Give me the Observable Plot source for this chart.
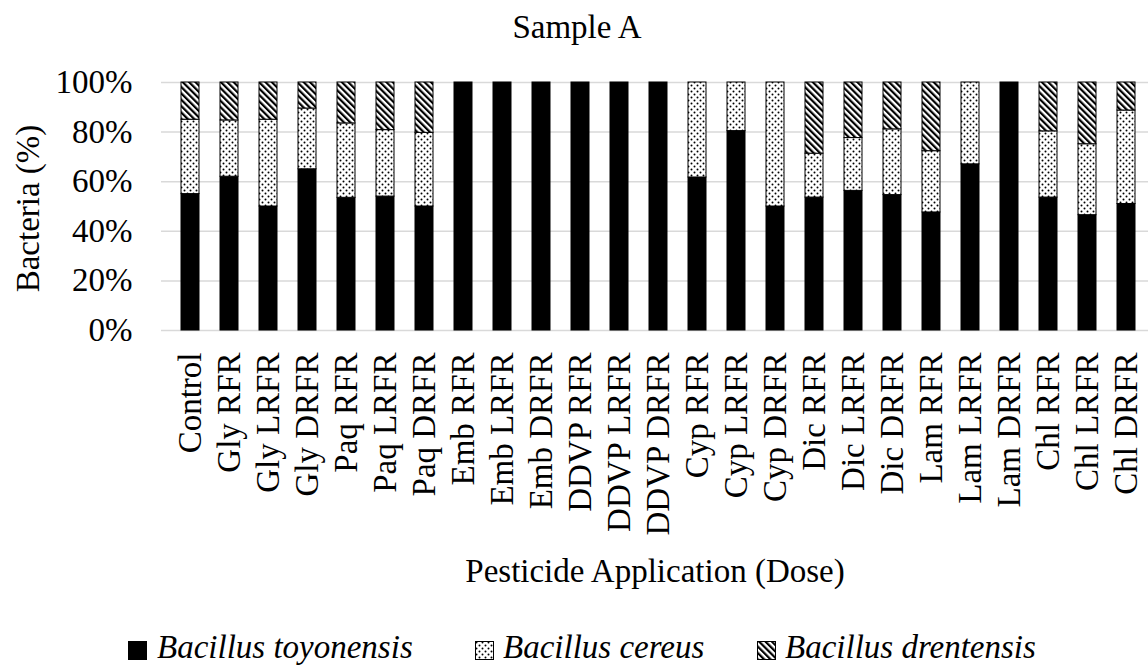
<!DOCTYPE html>
<html>
<head>
<meta charset="utf-8">
<script src="https://cdn.jsdelivr.net/npm/d3@7"></script>
<script src="https://cdn.jsdelivr.net/npm/@observablehq/plot@0.6"></script>
<style>
  body { margin: 0; background: #fff; font-family: "Liberation Serif", "Times New Roman", serif; color: #000; }
  #wrap { position: relative; width: 1148px; height: 666px; overflow: hidden; background: #fff; }
  #title { position: absolute; left: 0; top: 0; width: 1148px; box-sizing: border-box; text-align: center;
           font-size: 33px; line-height: 33px; padding-top: 11px; padding-left: 6px; }
  #chart { position: absolute; left: 0; top: 60px; }
  .legtext { position: absolute; top: 631px; font-size: 33px; line-height: 33px; font-style: italic; white-space: nowrap; }
  .legbox { position: absolute; top: 641px; width: 19px; height: 19px; }
</style>
</head>
<body>
<svg width="0" height="0" style="position:absolute">
  <defs>
    <pattern id="dots" patternUnits="userSpaceOnUse" width="6" height="6">
      <rect width="6" height="6" fill="#fff"></rect>
      <circle cx="1.5" cy="1.5" r="1" fill="#000"></circle>
      <circle cx="4.5" cy="4.5" r="1" fill="#000"></circle>
    </pattern>
    <pattern id="stripes" patternUnits="userSpaceOnUse" width="4.5" height="4.5" patternTransform="rotate(-45)">
      <rect width="4.5" height="4.5" fill="#fff"></rect>
      <rect width="2.2" height="4.5" fill="#000"></rect>
    </pattern>
  </defs>
</svg>
<div id="wrap">
  <div id="title">Sample A</div>
  <div id="chart"></div>
  <div id="legend"></div>
</div>
<script>
const categories = ["Control", "Gly RFR", "Gly LRFR", "Gly DRFR", "Paq RFR", "Paq LRFR", "Paq DRFR",
  "Emb RFR", "Emb LRFR", "Emb DRFR", "DDVP RFR", "DDVP LRFR", "DDVP DRFR",
  "Cyp RFR", "Cyp LRFR", "Cyp DRFR", "Dic RFR", "Dic LRFR", "Dic DRFR",
  "Lam RFR", "Lam LRFR", "Lam DRFR", "Chl RFR", "Chl LRFR", "Chl DRFR"];
const toyonensis = [55, 62, 50, 65, 53.5, 54, 50, 100, 100, 100, 100, 100, 100,
  61.7, 80.4, 50, 53.6, 56.3, 54.6, 47.6, 67, 100, 53.6, 46.5, 51];
const cereus = [30, 22.7, 35, 24.5, 30, 26.8, 29.7, 0, 0, 0, 0, 0, 0,
  38.3, 19.6, 50, 17.7, 21.3, 26.5, 24.7, 33, 0, 26.7, 28.6, 37.7];
const drentensis = [15, 15.3, 15, 10.5, 16.5, 19.2, 20.3, 0, 0, 0, 0, 0, 0,
  0, 0, 0, 28.7, 22.4, 18.9, 27.7, 0, 0, 19.7, 24.9, 11.3];
const species = ["Bacillus toyonensis", "Bacillus cereus", "Bacillus drentensis"];
const speciesFill = ["#000", "url(#dots)", "url(#stripes)"];
const yTicks = [0, 20, 40, 60, 80, 100];
const xTitle = "Pesticide Application (Dose)";
const yTitle = "Bacteria (%)";

const series = [toyonensis, cereus, drentensis];
const data = categories.flatMap((c, i) => species.map((s, k) => ({cat: c, sp: s, v: series[k][i]})));

const plot = Plot.plot({
  width: 1148,
  height: 545,
  marginLeft: 161,
  marginRight: 0,
  marginTop: 22,
  marginBottom: 275,
  style: {fontFamily: "'Liberation Serif', 'Times New Roman', serif", fontSize: "33px", color: "#000", background: "transparent", overflow: "visible"},
  x: {domain: categories, range: [161, 1154], paddingInner: 0.55, paddingOuter: 0.275},
  y: {domain: [0, 100]},
  color: {domain: species, range: speciesFill},
  marks: [
    Plot.ruleY(yTicks, {y: d => d, stroke: "#d9d9d9", strokeWidth: 1.5}),
    Plot.barY(data, {x: "cat", y: "v", fill: "sp", stroke: "#000", strokeWidth: 1}),
    Plot.axisY(yTicks, {tickFormat: d => d + "%", tickSize: 0, tickPadding: 29, label: null, fontSize: 33}),
    Plot.axisX({tickSize: 0, tickRotate: -90, tickPadding: 22, label: null, fontSize: 33}),
    Plot.text([yTitle], {frameAnchor: "left", textAnchor: "middle", lineAnchor: "middle", dx: -133, dy: 2, rotate: -90, fontSize: 33}),
    Plot.text([xTitle], {frameAnchor: "bottom", textAnchor: "middle", lineAnchor: "middle", dy: 241, fontSize: 33})
  ]
});
document.getElementById("chart").appendChild(plot);

// legend
const legX = [[128, 157], [475, 503], [757, 785]];
const legend = document.getElementById("legend");
species.forEach((s, k) => {
  const box = document.createElementNS("http://www.w3.org/2000/svg", "svg");
  box.setAttribute("class", "legbox");
  box.setAttribute("width", 19);
  box.setAttribute("height", 19);
  box.style.left = legX[k][0] + "px";
  const r = document.createElementNS("http://www.w3.org/2000/svg", "rect");
  r.setAttribute("x", 0.5); r.setAttribute("y", 0.5);
  r.setAttribute("width", 18); r.setAttribute("height", 18);
  r.setAttribute("fill", speciesFill[k]);
  r.setAttribute("stroke", "#000");
  r.setAttribute("stroke-width", 1);
  box.appendChild(r);
  legend.appendChild(box);
  const t = document.createElement("div");
  t.className = "legtext";
  t.style.left = legX[k][1] + "px";
  t.textContent = s;
  legend.appendChild(t);
});
</script>
</body>
</html>
